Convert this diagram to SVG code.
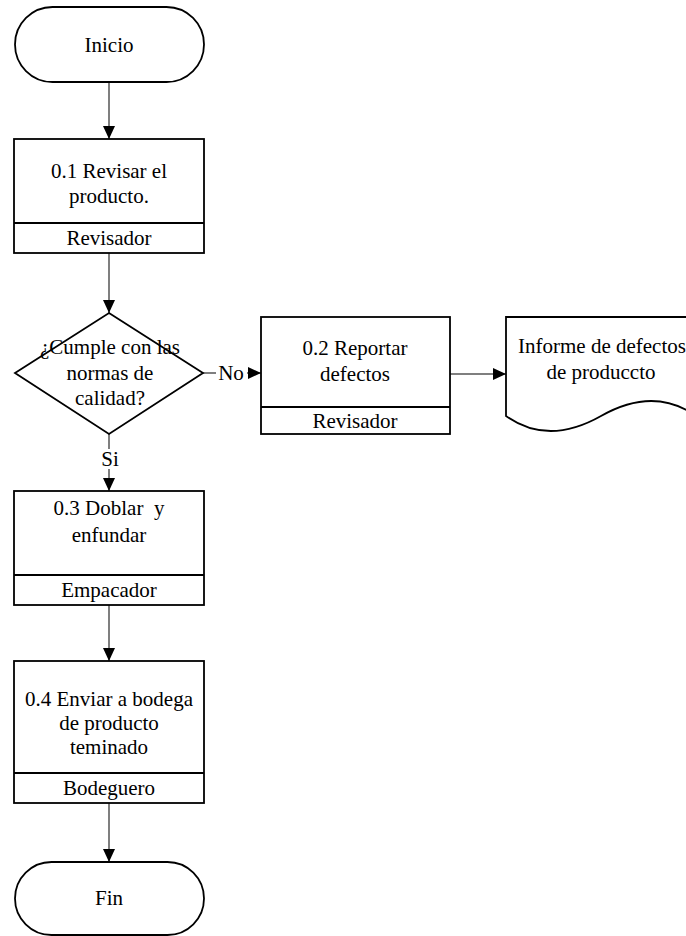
<svg xmlns="http://www.w3.org/2000/svg" width="686" height="936" viewBox="0 0 686 936">
  <style>
    .shape { fill: #ffffff; stroke: #000000; stroke-width: 1.8; }
    .div { stroke: #000000; stroke-width: 1.8; }
    .conn { fill: none; stroke: #555555; stroke-width: 1.5; }
    .lbl { font-family: "Liberation Serif", "Times New Roman", serif; font-size: 21px; fill: #000000; text-anchor: middle; }
    .lblbg { fill: #ffffff; }
  </style>
  <defs>
    <marker id="arrow" markerWidth="14" markerHeight="14" refX="13" refY="6" orient="auto" markerUnits="userSpaceOnUse">
      <path d="M0,0 L13,6 L0,12 Z" fill="#000000"/>
    </marker>
  </defs>
  <rect width="686" height="936" fill="#ffffff"/>

  <!-- connectors -->
  <g id="connectors">
    <line class="conn" x1="109" y1="82" x2="109" y2="139" marker-end="url(#arrow)"/>
    <line class="conn" x1="109" y1="253" x2="109" y2="313" marker-end="url(#arrow)"/>
    <line class="conn" x1="203" y1="373" x2="261" y2="373" marker-end="url(#arrow)"/>
    <line class="conn" x1="109" y1="434" x2="109" y2="491" marker-end="url(#arrow)"/>
    <line class="conn" x1="450" y1="374" x2="506" y2="374" marker-end="url(#arrow)"/>
    <line class="conn" x1="109" y1="605" x2="109" y2="661" marker-end="url(#arrow)"/>
    <line class="conn" x1="109" y1="803" x2="109" y2="862" marker-end="url(#arrow)"/>
    <rect class="lblbg" x="216" y="362" width="31" height="22"/>
    <text class="lbl" x="231" y="380">No</text>
    <rect class="lblbg" x="100" y="449" width="19" height="20"/>
    <text class="lbl" x="110" y="466">Si</text>
  </g>

  <!-- start -->
  <g id="inicio">
    <rect class="shape" x="15" y="7" width="189" height="75" rx="37.5" ry="37.5"/>
    <text class="lbl" x="109" y="52">Inicio</text>
  </g>

  <!-- 0.1 -->
  <g id="revisar">
    <rect class="shape" x="14" y="139" width="190" height="114"/>
    <line class="div" x1="14" y1="223" x2="204" y2="223"/>
    <text class="lbl" x="109" y="178">0.1 Revisar el</text>
    <text class="lbl" x="109" y="203">producto.</text>
    <text class="lbl" x="109" y="245">Revisador</text>
  </g>

  <!-- decision -->
  <g id="decision">
    <polygon class="shape" points="109,313 203,373 109,434 15,373"/>
    <text class="lbl" x="110" y="354">¿Cumple con las</text>
    <text class="lbl" x="110" y="380">normas de</text>
    <text class="lbl" x="110" y="405">calidad?</text>
  </g>

  <!-- 0.2 -->
  <g id="reportar">
    <rect class="shape" x="261" y="317" width="189" height="117"/>
    <line class="div" x1="261" y1="407" x2="450" y2="407"/>
    <text class="lbl" x="355" y="355">0.2 Reportar</text>
    <text class="lbl" x="355" y="381">defectos</text>
    <text class="lbl" x="355" y="428">Revisador</text>
  </g>

  <!-- document -->
  <g id="informe">
    <path class="shape" d="M506,317 H696 V416 Q654,386 601,416 T506,416 Z"/>
    <text class="lbl" x="602" y="353">Informe de defectos</text>
    <text class="lbl" x="601" y="379">de produccto</text>
  </g>

  <!-- 0.3 -->
  <g id="doblar">
    <rect class="shape" x="14" y="491" width="190" height="114"/>
    <line class="div" x1="14" y1="575" x2="204" y2="575"/>
    <text class="lbl" x="109" y="515" xml:space="preserve">0.3 Doblar  y</text>
    <text class="lbl" x="109" y="542">enfundar</text>
    <text class="lbl" x="109" y="597">Empacador</text>
  </g>

  <!-- 0.4 -->
  <g id="enviar">
    <rect class="shape" x="14" y="661" width="190" height="142"/>
    <line class="div" x1="14" y1="773" x2="204" y2="773"/>
    <text class="lbl" x="109" y="706">0.4 Enviar a bodega</text>
    <text class="lbl" x="109" y="730">de producto</text>
    <text class="lbl" x="109" y="754">teminado</text>
    <text class="lbl" x="109" y="795">Bodeguero</text>
  </g>

  <!-- end -->
  <g id="fin">
    <rect class="shape" x="15" y="862" width="189" height="73" rx="36.5" ry="36.5"/>
    <text class="lbl" x="109" y="905">Fin</text>
  </g>
</svg>
